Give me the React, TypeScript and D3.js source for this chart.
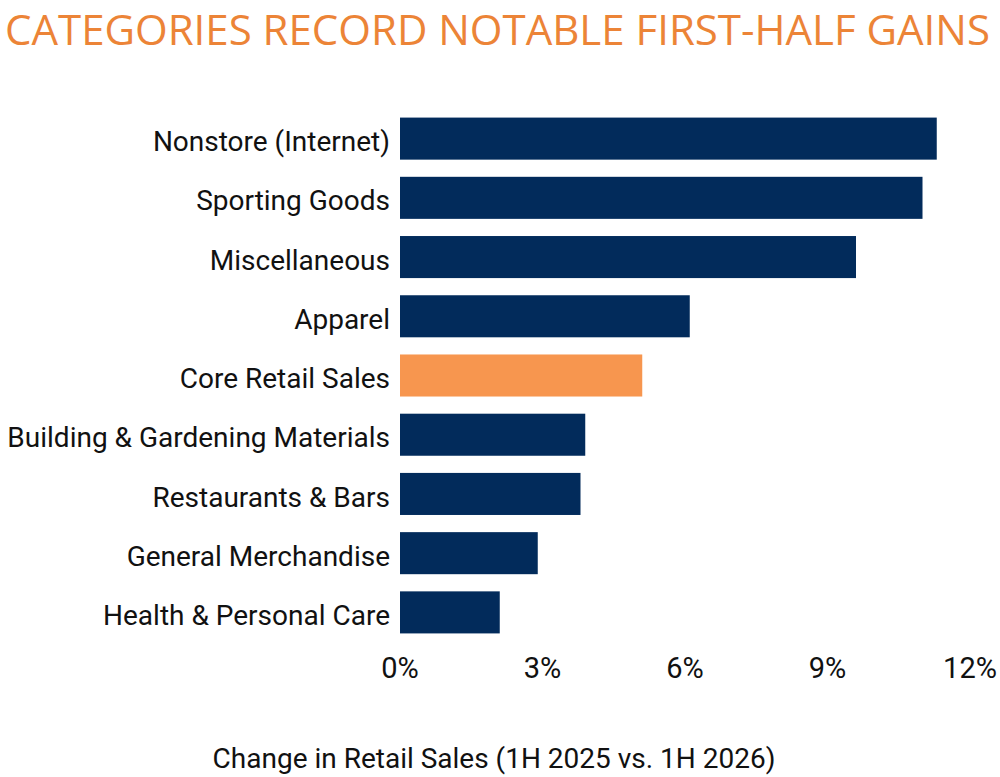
import React from 'react'
import * as d3 from 'd3'

const categories = [
  'Nonstore (Internet)',
  'Sporting Goods',
  'Miscellaneous',
  'Apparel',
  'Core Retail Sales',
  'Building & Gardening Materials',
  'Restaurants & Bars',
  'General Merchandise',
  'Health & Personal Care'
]
const changes = [11.3, 11.0, 9.6, 6.1, 5.1, 3.9, 3.8, 2.9, 2.1]
const highlighted = ['Core Retail Sales']
const tickValues = [0, 3, 6, 9, 12]

const NAVY = '#022b5b'
const ORANGE = '#f7964f'

export default function App() {
  const width = 1000
  const height = 777

  const x = d3.scaleLinear().domain([0, 12]).range([400, 970])
  const y = d3
    .scaleBand()
    .domain(categories)
    .range([109, 642])
    .paddingInner(0.29)
    .paddingOuter(0.145)

  const font = 'Roboto, sans-serif'

  return (
    <svg
      width={width}
      height={height}
      style={{position: 'absolute', left: 0, top: 0, background: '#fff'}}
    >
      <text
        x={5}
        y={45}
        fill="#ec8437"
        fontFamily="'Open Sans', sans-serif"
        fontSize={42}
        textLength={985}
        lengthAdjust="spacingAndGlyphs"
      >
        CATEGORIES RECORD NOTABLE FIRST-HALF GAINS
      </text>

      {categories.map((c, i) => (
        <g key={c}>
          <rect
            x={x(0)}
            y={y(c)}
            width={x(changes[i]) - x(0)}
            height={y.bandwidth()}
            fill={highlighted.includes(c) ? ORANGE : NAVY}
          />
          <text
            x={390}
            y={(y(c) || 0) + y.bandwidth() / 2}
            dy="0.45em"
            textAnchor="end"
            fontFamily={font}
            fontSize={28}
            fill="#111"
          >
            {c}
          </text>
        </g>
      ))}

      {tickValues.map(t => (
        <text
          key={t}
          x={x(t)}
          y={678}
          textAnchor="middle"
          fontFamily={font}
          fontSize={29}
          fill="#111"
        >
          {t + '%'}
        </text>
      ))}

      <text
        x={494}
        y={768}
        textAnchor="middle"
        fontFamily={font}
        fontSize={28}
        fill="#111"
      >
        Change in Retail Sales (1H 2025 vs. 1H 2026)
      </text>
    </svg>
  )
}
